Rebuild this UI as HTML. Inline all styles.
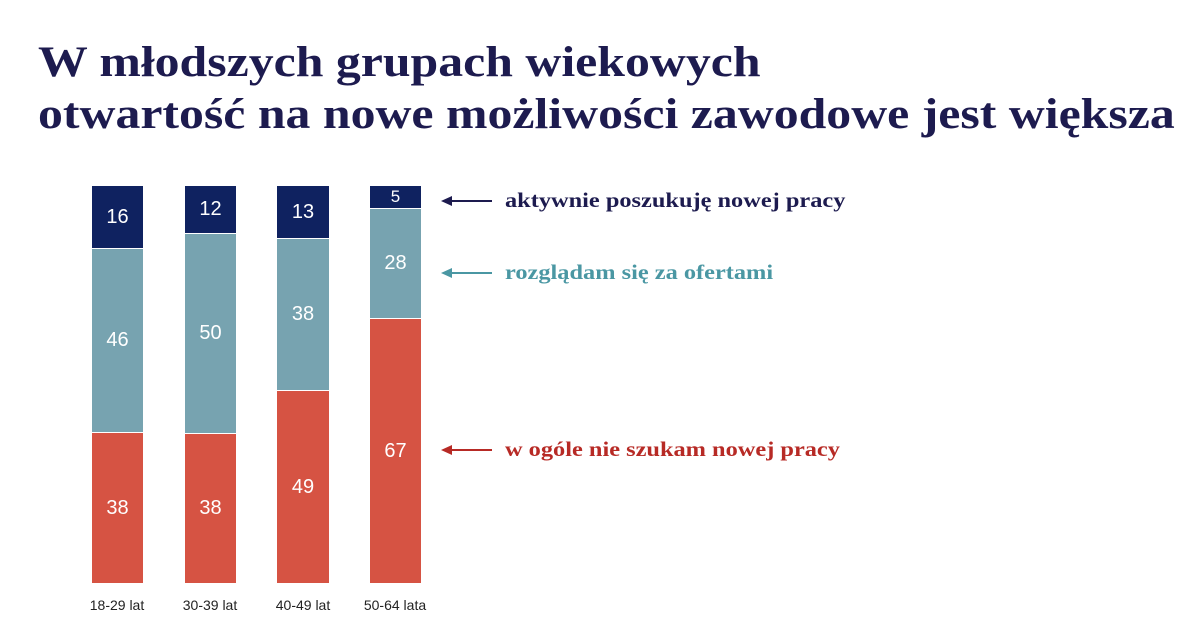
<!DOCTYPE html>
<html><head><meta charset="utf-8"><style>
body{margin:0;background:#fff;width:1200px;height:641px;overflow:hidden;position:relative}
h1{position:absolute;left:38px;top:37px;margin:0;font-family:"Liberation Serif",serif;font-weight:bold;font-size:43px;line-height:52px;color:#1d1b4f;white-space:nowrap;transform:scaleX(1.158);transform-origin:0 0}
.s{position:absolute;display:flex;align-items:center;justify-content:center;color:#fff;font-family:"Liberation Sans",sans-serif;font-size:20px;box-sizing:border-box}
.n{background:#0f2260}.t{background:#77a3b0;border-top:1px solid #fff}.r{background:#d65343;border-top:1px solid #fff}
.lab{position:absolute;top:597px;font-family:"Liberation Sans",sans-serif;font-size:14px;color:#222;width:90px;text-align:center}
.lg{position:absolute;left:505px;font-family:"Liberation Serif",serif;font-weight:bold;font-size:21px;white-space:nowrap;transform:scaleX(1.16);transform-origin:0 0}
</style></head><body>
<h1>W młodszych grupach wiekowych<br>otwartość na nowe możliwości zawodowe jest większa</h1>

<div class="s n" style="left:92px;top:186px;width:51px;height:62px">16</div>
<div class="s t" style="left:92px;top:248px;width:51px;height:184px">46</div>
<div class="s r" style="left:92px;top:432px;width:51px;height:151px">38</div>

<div class="s n" style="left:185px;top:186px;width:51px;height:47px">12</div>
<div class="s t" style="left:185px;top:233px;width:51px;height:200px">50</div>
<div class="s r" style="left:185px;top:433px;width:51px;height:150px">38</div>

<div class="s n" style="left:277px;top:186px;width:52px;height:52px">13</div>
<div class="s t" style="left:277px;top:238px;width:52px;height:152px">38</div>
<div class="s r" style="left:277px;top:390px;width:52px;height:193px">49</div>

<div class="s n" style="left:370px;top:186px;width:51px;height:22px;font-size:17px">5</div>
<div class="s t" style="left:370px;top:208px;width:51px;height:110px">28</div>
<div class="s r" style="left:370px;top:318px;width:51px;height:265px">67</div>

<div class="lab" style="left:72px">18-29 lat</div>
<div class="lab" style="left:165px">30-39 lat</div>
<div class="lab" style="left:258px">40-49 lat</div>
<div class="lab" style="left:350px">50-64 lata</div>

<svg style="position:absolute;left:0;top:0" width="1200" height="641">
<g stroke-width="2">
<line x1="448" y1="201" x2="492" y2="201" stroke="#1d1b4f"/><polygon points="441,201 452,196 452,206" fill="#1d1b4f"/>
<line x1="448" y1="273" x2="492" y2="273" stroke="#4a97a3"/><polygon points="441,273 452,268 452,278" fill="#4a97a3"/>
<line x1="448" y1="450" x2="492" y2="450" stroke="#b72a25"/><polygon points="441,450 452,445 452,455" fill="#b72a25"/>
</g></svg>
<div class="lg" style="top:188px;color:#1d1b4f">aktywnie poszukuję nowej pracy</div>
<div class="lg" style="top:260px;color:#4a97a3">rozglądam się za ofertami</div>
<div class="lg" style="top:437px;color:#b72a25">w ogóle nie szukam nowej pracy</div>
</body></html>
